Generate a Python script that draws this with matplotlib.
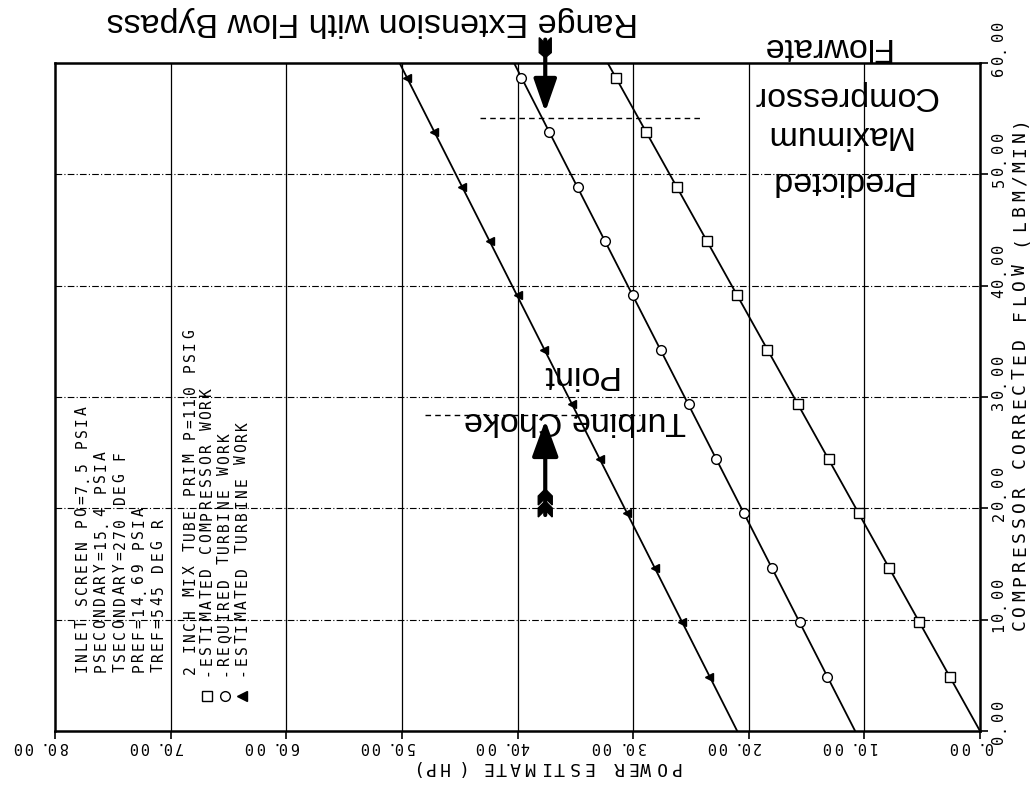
import matplotlib
matplotlib.use('Agg')
import matplotlib.pyplot as plt
from matplotlib.lines import Line2D
from matplotlib.patches import Polygon

W, H = 1035, 788

flow_ticks = [0, 10, 20, 30, 40, 50, 60]
power_ticks = [0, 10, 20, 30, 40, 50, 60, 70, 80]

# where each work line meets the bottom (flow 0) and top (flow 60) of the frame
flow_ends = [0, 60]
comp_ends = [0.0, 32.2]
req_ends = [10.8, 40.3]
turb_ends = [21.0, 50.2]

# plotted points, HP against lbm/min
flow_pts = [4.89, 9.78, 14.67, 19.56, 24.45, 29.34, 34.23, 39.12, 44.01, 48.9, 53.79, 58.68]
comp_pts = [2.6, 5.3, 7.9, 10.5, 13.1, 15.7, 18.4, 21.0, 23.6, 26.2, 28.9, 31.5]
req_pts = [13.2, 15.6, 18.0, 20.4, 22.8, 25.2, 27.6, 30.0, 32.4, 34.8, 37.3, 39.7]
turb_pts = [23.4, 25.8, 28.1, 30.5, 32.9, 35.3, 37.7, 40.0, 42.4, 44.8, 47.2, 49.6]

note_lines = ['INLET SCREEN PO=7.5 PSIA', 'PSECONDARY=15.4 PSIA',
              'TSECONDARY=270 DEG F', 'PREF=14.69 PSIA', 'TREF=545 DEG R']
case_line = '2 INCH MIX TUBE PRIM P=110 PSIG'
key_lines = ['-ESTIMATED COMPRESSOR WORK', '-REQUIRED TURBINE WORK',
             '-ESTIMATED TURBINE WORK']

choke_flow = 28.4
max_flow = 55.1
arrow_power = 37.6

fig = plt.figure(figsize=(W / 100, H / 100), dpi=100)
ax = fig.add_axes([55 / W, 1 - 731 / H, 925 / W, 668 / H])
ax.set_xlim(80, 0)
ax.set_ylim(0, 60)
ax.set_xticks(power_ticks)
ax.set_yticks(flow_ticks)
ax.yaxis.tick_right()
ax.tick_params(direction='out', length=6, width=1.2, labelbottom=False,
               labelright=False, labelleft=False)
for s in ax.spines.values():
    s.set_linewidth(1.8)

# grid: solid at each 10 HP, dash-dot at each 10 lbm/min
for p in power_ticks[1:-1]:
    ax.axvline(p, color='black', lw=0.9, zorder=1)
for f in flow_ticks[1:-1]:
    ax.axhline(f, color='black', lw=0.8, ls=(0, (6, 2, 1, 2)), zorder=1)

# work lines
ax.plot(comp_ends, flow_ends, color='black', lw=1.3, zorder=2)
ax.plot(req_ends, flow_ends, color='black', lw=1.3, zorder=2)
ax.plot(turb_ends, flow_ends, color='black', lw=1.3, zorder=2)
ax.plot(comp_pts, flow_pts, ls='none', marker='s', ms=7, mfc='white', mec='black', mew=1, zorder=3)
ax.plot(req_pts, flow_pts, ls='none', marker='o', ms=7, mfc='white', mec='black', mew=1, zorder=3)
ax.plot(turb_pts, flow_pts, ls='none', marker='<', ms=6, mfc='black', mec='black', mew=1, zorder=3)


def pen_text(x, y, s, rot, size=10.5, pitch=11.2):
    # one character at a time like the plotter; (x, y) is the first character in pixels
    for i, ch in enumerate(s):
        if rot == 90:
            cx, cy = x, y + i * pitch
        else:
            cx, cy = x - i * pitch, y
        fig.text(cx, cy, ch, transform=None, rotation=rot, ha='center', va='center',
                 fontsize=size, family='DejaVu Sans Mono')


# tick labels
for f in flow_ticks:
    ty = ax.transData.transform((0, f))[1]
    pen_text(999, ty - 8, f'{f:.2f}', 90, size=11, pitch=11.4)
for p in power_ticks:
    tx = ax.transData.transform((p, 0))[0]
    pen_text(tx + 7, H - 746, f'{p:.2f}', 180, size=11, pitch=11.4)

pen_text(1020, H - 625, 'COMPRESSOR CORRECTED FLOW (LBM/MIN)', 90, size=13, pitch=14.8)
pen_text(675, H - 767, 'POWER ESTIMATE (HP)', 180, size=13, pitch=14.5)

# run conditions and key
for i, line in enumerate(note_lines):
    pen_text(82 + i * 19, H - 668, line, 90)
pen_text(190, H - 670, case_line, 90)
for i, (line, mk) in enumerate(zip(key_lines, ['s', 'o', '<'])):
    x = 207 + i * 17.5
    pen_text(x, H - 672, line, 90)
    fig.add_artist(Line2D([x], [H - 696], transform=None, marker=mk, ms=7,
                          mfc='black' if mk == '<' else 'white', mec='black', mew=1))

# hand-drawn notes
ax.plot([43.2, 24.2], [max_flow, max_flow], color='black', lw=1, ls=(0, (4, 3)), zorder=2)
ax.plot([48.0, 29.4], [choke_flow, choke_flow], color='black', lw=1, ls=(0, (4, 3)), zorder=2)

ax.annotate('', xy=(arrow_power, 55.6), xytext=(arrow_power, 62.1),
            arrowprops=dict(arrowstyle='-|>,head_length=1.0,head_width=0.35', lw=3,
                            color='black', mutation_scale=20, shrinkA=0, shrinkB=0),
            annotation_clip=False)
ax.annotate('', xy=(arrow_power, 27.9), xytext=(arrow_power, 19.4),
            arrowprops=dict(arrowstyle='-|>,head_length=1.1,head_width=0.4', lw=3,
                            color='black', mutation_scale=20, shrinkA=0, shrinkB=0),
            annotation_clip=False)

# arrow fletchings, in pixels round the tail of each shaft
tx, ty = ax.transData.transform((arrow_power, 62.1))
fig.add_artist(Polygon([(tx - 6, ty + 2), (tx, ty - 4), (tx + 6, ty + 2), (tx + 6, ty - 13),
                        (tx, ty - 18), (tx - 6, ty - 13)], closed=True, transform=None,
                       color='black'))
tx, ty = ax.transData.transform((arrow_power, 19.4))
for dy in [0, 12]:
    fig.add_artist(Polygon([(tx - 7, ty - 2 + dy), (tx, ty + 5 + dy), (tx + 7, ty - 2 + dy),
                            (tx + 7, ty + 7 + dy), (tx, ty + 14 + dy), (tx - 7, ty + 7 + dy)],
                           closed=True, transform=None, color='black'))

note_font = dict(transform=None, rotation=180, ha='center', va='center',
                 fontsize=24.5, family='Liberation Sans')
fig.text(372, H - 21, 'Range Extension with Flow Bypass', **note_font)
fig.text(840, H - 181, 'Predicted', **note_font)
fig.text(838, H - 135, 'Maximum', **note_font)
fig.text(845, H - 95, 'Compressor', **note_font)
fig.text(825, H - 47, 'Flowrate', **note_font)
fig.text(575, H - 420, 'Turbine Choke', **note_font)
fig.text(578, H - 374, 'Point', **note_font)

fig.savefig('out.png', dpi=100, facecolor='white')
